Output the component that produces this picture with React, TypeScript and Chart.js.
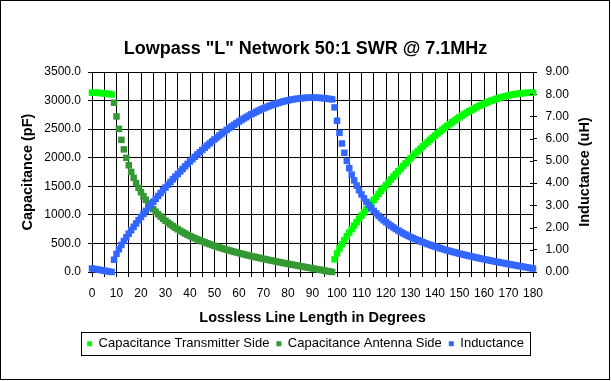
import React, { useEffect, useRef } from 'react';
import { Chart, registerables } from 'chart.js';

Chart.register(...registerables);

const FONT = '"Liberation Sans", Arial, Helvetica, sans-serif';
const N = null;

const chartTitle = 'Lowpass "L" Network 50:1 SWR @ 7.1MHz';
const xTitle = 'Lossless Line Length in Degrees';
const yTitle = 'Capacitance (pF)';
const y2Title = 'Inductance (uH)';
const seriesNames = ['Capacitance Transmitter Side', 'Capacitance Antenna Side', 'Inductance'];
const seriesColors = ['#00FF00', '#339933', '#3366FF'];

// line length in degrees (x values)
const degrees = [
  0, 1, 2, 3, 4, 5, 6, 7, 8, 9,
  10, 11, 12, 13, 14, 15, 16, 17, 18, 19,
  20, 21, 22, 23, 24, 25, 26, 27, 28, 29,
  30, 31, 32, 33, 34, 35, 36, 37, 38, 39,
  40, 41, 42, 43, 44, 45, 46, 47, 48, 49,
  50, 51, 52, 53, 54, 55, 56, 57, 58, 59,
  60, 61, 62, 63, 64, 65, 66, 67, 68, 69,
  70, 71, 72, 73, 74, 75, 76, 77, 78, 79,
  80, 81, 82, 83, 84, 85, 86, 87, 88, 89,
  90, 91, 92, 93, 94, 95, 96, 97, 98, 99,
  100, 101, 102, 103, 104, 105, 106, 107, 108, 109,
  110, 111, 112, 113, 114, 115, 116, 117, 118, 119,
  120, 121, 122, 123, 124, 125, 126, 127, 128, 129,
  130, 131, 132, 133, 134, 135, 136, 137, 138, 139,
  140, 141, 142, 143, 144, 145, 146, 147, 148, 149,
  150, 151, 152, 153, 154, 155, 156, 157, 158, 159,
  160, 161, 162, 163, 164, 165, 166, 167, 168, 169,
  170, 171, 172, 173, 174, 175, 176, 177, 178, 179,
  180,
];

// Capacitance, transmitter side (pF)
const capTx = [
  3138.0, 3137.6, 3136.2, 3133.7, 3130.3, 3125.9, 3120.6, 3114.3, 3107.0, N,
  N, N, N, N, N, N, N, N, N, N,
  N, N, N, N, N, N, N, N, N, N,
  N, N, N, N, N, N, N, N, N, N,
  N, N, N, N, N, N, N, N, N, N,
  N, N, N, N, N, N, N, N, N, N,
  N, N, N, N, N, N, N, N, N, N,
  N, N, N, N, N, N, N, N, N, N,
  N, N, N, N, N, N, N, N, N, N,
  N, N, N, N, N, N, N, N, N, 221.1,
  325.5, 410.8, 487.1, 558.0, 625.2, 689.9, 752.5, 813.4, 873.1, 931.5,
  989.0, 1045.5, 1101.2, 1156.1, 1210.3, 1263.7, 1316.6, 1368.7, 1420.2, 1471.1,
  1521.2, 1570.8, 1619.7, 1668.1, 1715.8, 1762.9, 1809.3, 1855.0, 1900.2, 1944.5,
  1988.2, 2031.4, 2073.8, 2115.5, 2156.4, 2196.7, 2236.3, 2275.0, 2313.1, 2350.4,
  2386.9, 2422.7, 2457.7, 2491.9, 2525.4, 2558.0, 2589.8, 2620.7, 2650.9, 2680.2,
  2708.6, 2736.2, 2762.9, 2788.8, 2813.8, 2837.9, 2861.2, 2883.4, 2904.8, 2925.3,
  2944.9, 2963.6, 2981.4, 2998.2, 3014.0, 3029.0, 3043.1, 3056.0, 3068.1, 3079.2,
  3089.5, 3098.7, 3107.0, 3114.3, 3120.6, 3125.9, 3130.3, 3133.7, 3136.2, 3137.6,
  3138.0,
];

// Capacitance, antenna side (pF)
const capAnt = [
  N, N, N, N, N, N, N, N, N, 2963.0,
  2722.0, 2504.5, 2313.1, 2145.5, 1998.2, 1868.0, 1752.3, 1649.0, 1556.2, 1472.2,
  1396.1, 1326.6, 1263.0, 1204.5, 1150.5, 1100.5, 1054.0, 1010.7, 970.3, 932.4,
  896.8, 863.3, 831.6, 801.8, 773.4, 746.5, 721.0, 696.6, 673.4, 651.2,
  629.9, 609.6, 590.0, 571.3, 553.2, 535.8, 519.0, 502.8, 487.1, 471.9,
  457.2, 443.0, 429.2, 415.7, 402.7, 389.9, 377.6, 365.5, 353.7, 342.2,
  330.9, 319.9, 309.1, 298.6, 288.2, 278.0, 268.1, 258.3, 248.6, 239.1,
  229.8, 220.6, 211.5, 202.6, 193.7, 185.0, 176.4, 167.8, 159.4, 151.0,
  142.7, 134.5, 126.3, 118.2, 110.2, 102.2, 94.3, 86.3, 78.4, 70.6,
  62.8, 54.9, 47.1, 39.4, 31.6, 23.8, 16.0, 8.2, 0.4, N,
  N, N, N, N, N, N, N, N, N, N,
  N, N, N, N, N, N, N, N, N, N,
  N, N, N, N, N, N, N, N, N, N,
  N, N, N, N, N, N, N, N, N, N,
  N, N, N, N, N, N, N, N, N, N,
  N, N, N, N, N, N, N, N, N, N,
  N, N, N, N, N, N, N, N, N, N,
  N, N, N, N, N, N, N, N, N, N,
  N,
];

// Inductance (uH)
const inductance = [
  0.157, 0.137, 0.118, 0.098, 0.079, 0.059, 0.040, 0.021, 0.001, 0.553,
  0.814, 1.027, 1.218, 1.395, 1.563, 1.725, 1.881, 2.034, 2.183, 2.329,
  2.473, 2.614, 2.753, 2.890, 3.026, 3.160, 3.292, 3.422, 3.551, 3.678,
  3.803, 3.927, 4.050, 4.171, 4.290, 4.407, 4.523, 4.638, 4.751, 4.862,
  4.971, 5.079, 5.185, 5.289, 5.391, 5.492, 5.591, 5.688, 5.783, 5.876,
  5.968, 6.057, 6.145, 6.230, 6.314, 6.395, 6.475, 6.552, 6.627, 6.701,
  6.772, 6.841, 6.908, 6.972, 7.035, 7.095, 7.153, 7.209, 7.263, 7.314,
  7.363, 7.409, 7.454, 7.496, 7.535, 7.573, 7.608, 7.640, 7.671, 7.698,
  7.724, 7.747, 7.768, 7.786, 7.802, 7.815, 7.826, 7.835, 7.841, 7.844,
  7.846, 7.844, 7.841, 7.835, 7.826, 7.815, 7.802, 7.786, 7.768, 7.407,
  6.806, 6.262, 5.783, 5.364, 4.996, 4.670, 4.381, 4.123, 3.891, 3.681,
  3.490, 3.317, 3.158, 3.012, 2.876, 2.751, 2.635, 2.527, 2.426, 2.331,
  2.242, 2.158, 2.079, 2.005, 1.934, 1.867, 1.803, 1.742, 1.684, 1.628,
  1.575, 1.524, 1.475, 1.428, 1.383, 1.340, 1.298, 1.257, 1.218, 1.180,
  1.143, 1.108, 1.073, 1.039, 1.007, 0.975, 0.944, 0.914, 0.884, 0.856,
  0.827, 0.800, 0.773, 0.746, 0.721, 0.695, 0.670, 0.646, 0.622, 0.598,
  0.575, 0.552, 0.529, 0.506, 0.484, 0.463, 0.441, 0.420, 0.399, 0.378,
  0.357, 0.336, 0.316, 0.296, 0.276, 0.256, 0.236, 0.216, 0.196, 0.177,
  0.157,
];

const toPoints = (vals: (number | null)[]) =>
  degrees.map((d, i) => ({ x: d, y: vals[i] === null || vals[i] === undefined ? NaN : vals[i] }));

const framePlugin = {
  id: 'excelFrame',
  beforeDraw(chart: any) {
    const ctx = chart.ctx;
    ctx.save();
    ctx.fillStyle = '#FFFFFF';
    ctx.fillRect(0, 0, chart.width, chart.height);
    ctx.restore();
  },
  afterDraw(chart: any) {
    const ctx = chart.ctx;
    const area = chart.chartArea;
    ctx.save();
    ctx.strokeStyle = '#000000';
    ctx.lineWidth = 1;
    // inner half of the right-axis cross tick marks
    const y2 = chart.scales.y2;
    ctx.beginPath();
    y2.ticks.forEach((_t: any, i: number) => {
      const py = Math.round(y2.getPixelForTick(i)) + 0.5;
      ctx.moveTo(Math.round(area.right) - 3, py);
      ctx.lineTo(Math.round(area.right), py);
    });
    ctx.stroke();
    // right axis title (reads bottom to top)
    ctx.save();
    ctx.translate(585, (area.top + area.bottom) / 2);
    ctx.rotate(-Math.PI / 2);
    ctx.font = `bold 14.5px ${FONT}`;
    ctx.fillStyle = '#000000';
    ctx.textAlign = 'center';
    ctx.textBaseline = 'middle';
    ctx.fillText(y2Title, 0, 0);
    ctx.restore();
    // legend frame
    const lg = chart.legend;
    const boxes = lg && lg.legendHitBoxes;
    if (boxes && boxes.length) {
      const l = Math.min(...boxes.map((b: any) => b.left)) - 6;
      const r = Math.max(...boxes.map((b: any) => b.left + b.width)) + 6;
      const t = Math.round(lg.top + 2) + 0.5;
      ctx.strokeRect(Math.round(l) + 0.5, t, Math.round(r - l), 23);
    }
    // outer chart border
    ctx.strokeRect(0.5, 0.5, 609, 379);
    ctx.restore();
  },
};

export default function App() {
  const ref = useRef<HTMLCanvasElement>(null);

  useEffect(() => {
    document.body.style.margin = '0';
    const canvas = ref.current;
    if (!canvas) return;
    Chart.defaults.font.family = FONT;
    Chart.defaults.color = '#000000';

    const common = {
      showLine: false,
      pointStyle: 'rect',
      pointRadius: 4.6,
      pointHoverRadius: 4.6,
      pointBorderWidth: 0,
      borderWidth: 0,
      clip: false,
    };

    const chart = new Chart(canvas, {
      type: 'scatter',
      data: {
        datasets: [
          {
            ...common,
            label: seriesNames[0],
            data: toPoints(capTx),
            yAxisID: 'y',
            backgroundColor: seriesColors[0],
            borderColor: seriesColors[0],
            order: 2,
          },
          {
            ...common,
            label: seriesNames[1],
            data: toPoints(capAnt),
            yAxisID: 'y',
            backgroundColor: seriesColors[1],
            borderColor: seriesColors[1],
            order: 1,
          },
          {
            ...common,
            label: seriesNames[2],
            data: toPoints(inductance),
            yAxisID: 'y2',
            backgroundColor: seriesColors[2],
            borderColor: seriesColors[2],
            order: 0,
          },
        ],
      } as any,
      options: {
        responsive: false,
        maintainAspectRatio: false,
        devicePixelRatio: 1,
        animation: false,
        events: [],
        layout: { padding: { left: 0, right: 0, top: 0, bottom: 20.7 } },
        plugins: {
          title: {
            display: true,
            text: chartTitle,
            color: '#000000',
            font: { family: FONT, size: 18, weight: 'bold' },
            padding: { top: 38, bottom: 12.4 },
          },
          legend: {
            display: true,
            position: 'bottom',
            labels: {
              color: '#000000',
              font: { family: FONT, size: 13 },
              boxWidth: 5,
              boxHeight: 5,
              padding: 7,
              sort: (a: any, b: any) => a.datasetIndex - b.datasetIndex,
            },
          },
          tooltip: { enabled: false },
        },
        scales: {
          x: {
            type: 'linear',
            position: 'bottom',
            min: 0,
            max: 180,
            afterFit: (s: any) => { s.height = 58.3; },
            ticks: {
              stepSize: 5,
              autoSkip: false,
              maxRotation: 0,
              minRotation: 0,
              padding: 9.8,
              color: '#000000',
              font: { family: FONT, size: 12 },
              callback: (v: any) => (Number(v) % 10 === 0 ? String(v) : ''),
            },
            grid: { color: '#000000', lineWidth: 1, tickLength: 5, drawTicks: true },
            border: { display: true, color: '#000000', width: 1 },
            title: {
              display: true,
              text: xTitle,
              color: '#000000',
              font: { family: FONT, size: 14.5, weight: 'bold' },
              padding: { top: 0, bottom: 3.6 },
            },
          },
          y: {
            type: 'linear',
            position: 'left',
            min: 0,
            max: 3500,
            afterFit: (s: any) => { s.width = 92; },
            ticks: {
              stepSize: 500,
              padding: 7,
              color: '#000000',
              font: { family: FONT, size: 12 },
              callback: (v: any) => Number(v).toFixed(1),
            },
            grid: { color: '#000000', lineWidth: 1, tickLength: 4 },
            border: { display: true, color: '#000000', width: 1 },
            title: {
              display: true,
              text: yTitle,
              color: '#000000',
              font: { family: FONT, size: 14.5, weight: 'bold' },
              padding: { top: 19.3, bottom: 0 },
            },
          },
          y2: {
            type: 'linear',
            position: 'right',
            min: 0,
            max: 9,
            afterFit: (s: any) => { s.width = 78; },
            ticks: {
              stepSize: 1,
              padding: 8.5,
              color: '#000000',
              font: { family: FONT, size: 12 },
              callback: (v: any) => Number(v).toFixed(2),
            },
            grid: { drawOnChartArea: false, color: '#000000', lineWidth: 1, tickLength: 4 },
            border: { display: true, color: '#000000', width: 1 },
          },
        },
      } as any,
      plugins: [framePlugin],
    });

    return () => chart.destroy();
  }, []);

  return (
    <div style={{ position: 'absolute', left: 0, top: 0, width: 611, height: 381 }}>
      <canvas ref={ref} width={611} height={381} style={{ display: 'block', width: 611, height: 381 }} />
    </div>
  );
}
